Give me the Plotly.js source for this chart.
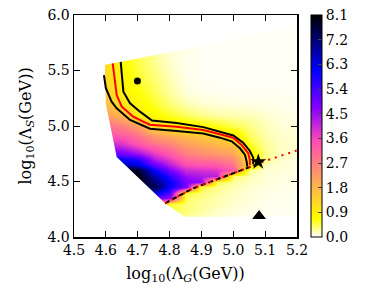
<!DOCTYPE html>
<html>
<head>
<meta charset="utf-8">
<script src="https://cdn.plot.ly/plotly-3.0.1.min.js"></script>
<style>html,body{margin:0;padding:0;background:#fff;}#chart{width:371px;height:297px;}</style>
</head>
<body>
<div id="chart"></div>
<script>
// ---- grid of the colour field (log10 Lambda_G across, log10 Lambda_S up) ----
const xGrid = [4.55, 4.60, 4.65, 4.70, 4.75, 4.80, 4.85, 4.90, 4.95, 5.00, 5.05, 5.10, 5.15, 5.20, 5.25];
const yGrid = [4.15, 4.20, 4.25, 4.30, 4.35, 4.40, 4.45, 4.50, 4.55, 4.60, 4.65, 4.70, 4.75, 4.80, 4.85, 4.90, 4.95, 5.00,
               5.10, 5.20, 5.30, 5.40, 5.50, 5.60, 5.70, 5.80, 5.90, 6.00];
// one column of values (bottom to top) for each xGrid entry
const zCol455 = [6,6,6,6,6,6,6,6,6,6,6,6,5.2,4.5,4.0,3.5,3.2,2.9,2.2,1.7,1.45,1.3,1.25,1.25,1.2,1.2,1.2,1.2];
const zCol460 = [6,6,6,6,6,6,6,6,6,6,6,6,5.2,4.5,4.0,3.5,3.2,2.9,2.2,1.7,1.45,1.3,1.25,1.25,1.2,1.2,1.2,1.2];
const zCol465 = [7,7,7,7,7,7,7,7,7.5,8,6.8,6.0,5.0,4.3,3.8,3.4,3.0,2.7,1.8,1.05,0.85,0.8,0.75,0.7,0.7,0.7,0.7,0.7];
const zCol470 = [3,3,3,4,5,6,7,8,8,7.8,6.4,5.6,4.5,3.8,3.3,3.0,2.6,2.2,0.85,0.75,0.65,0.55,0.5,0.45,0.45,0.45,0.45,0.45];
const zCol475 = [1,1,1,4,5,6.5,7.6,7.2,6.8,6.1,5.1,4.3,3.8,3.3,2.8,2.4,1.8,1.15,0.72,0.55,0.45,0.38,0.32,0.28,0.25,0.25,0.25,0.25];
const zCol480 = [0.3,0.45,0.5,0.55,4.6,5.2,6.0,6.1,5.6,4.8,4.2,3.7,3.3,2.9,2.5,2.1,1.6,0.95,0.55,0.35,0.25,0.2,0.15,0.12,0.1,0.1,0.1,0.1];
const zCol485 = [0.2,0.3,0.35,0.35,0.4,0.5,4.9,4.8,4.5,4.0,3.5,3.1,2.7,2.4,2.1,1.8,1.3,0.85,0.4,0.2,0.1,0.07,0.05,0.05,0.05,0.05,0.05,0.05];
const zCol490 = [0.15,0.2,0.25,0.25,0.3,0.35,0.5,4.6,4.3,3.9,3.4,2.9,2.5,2.2,1.9,1.6,1.1,0.7,0.3,0.12,0.06,0.03,0.03,0.03,0.03,0.03,0.03,0.03];
const zCol495 = [0.1,0.12,0.15,0.2,0.2,0.25,0.3,0.45,4.2,3.8,3.3,2.8,2.3,2.0,1.7,1.4,0.95,0.6,0.22,0.1,0.04,0.03,0.03,0.03,0.03,0.03,0.03,0.03];
const zCol500 = [0.06,0.08,0.1,0.12,0.15,0.15,0.2,0.25,0.4,3.3,2.9,2.5,2.1,1.8,1.5,1.05,0.75,0.45,0.2,0.08,0.03,0.03,0.03,0.03,0.03,0.03,0.03,0.03];
const zCol505 = [0.05,0.05,0.06,0.08,0.1,0.1,0.12,0.15,0.2,0.3,1.3,1.1,0.9,0.7,0.55,0.45,0.38,0.32,0.18,0.07,0.03,0.03,0.03,0.03,0.03,0.03,0.03,0.03];
const zCol510 = [0.04,0.04,0.05,0.05,0.06,0.07,0.08,0.1,0.1,0.12,0.15,0.3,0.3,0.28,0.25,0.22,0.2,0.18,0.12,0.06,0.03,0.03,0.03,0.03,0.03,0.03,0.03,0.03];
const zCol515 = [0.03,0.03,0.04,0.04,0.05,0.05,0.06,0.07,0.08,0.1,0.1,0.12,0.15,0.15,0.15,0.13,0.12,0.1,0.08,0.05,0.03,0.03,0.03,0.03,0.03,0.03,0.03,0.03];
const zCol520 = [0.03,0.03,0.03,0.03,0.04,0.04,0.05,0.05,0.06,0.07,0.08,0.1,0.12,0.12,0.12,0.1,0.1,0.08,0.06,0.04,0.03,0.03,0.03,0.03,0.03,0.03,0.03,0.03];
const zCol525 = [0.03,0.03,0.03,0.03,0.04,0.04,0.05,0.05,0.06,0.07,0.08,0.1,0.12,0.12,0.12,0.1,0.1,0.08,0.06,0.04,0.03,0.03,0.03,0.03,0.03,0.03,0.03,0.03];

// outline of the scanned region (everything outside it is blank)
const regionX = [4.40, 5.30, 5.30, 5.20, 4.864, 4.597, 4.600, 4.634, 4.786, 4.848, 5.30, 5.30, 4.40];
const regionY = [6.10, 6.10, 5.97, 5.91, 5.700, 5.550, 5.200, 4.720, 4.304, 4.183, 4.183, 3.90, 3.90];

// contour (red) and its two black companion curves
const redX = [4.6215, 4.6287, 4.634, 4.650, 4.686, 4.7175, 4.7385, 4.822, 4.906, 4.958, 5.000, 5.026, 5.047, 5.052, 5.052];
const redY = [5.564, 5.369, 5.279, 5.174, 5.084, 5.039, 5.012, 4.994, 4.964, 4.925, 4.895, 4.829, 4.754, 4.694, 4.649];
const upperX = [4.6466, 4.650, 4.655, 4.676, 4.707, 4.745, 4.822, 4.906, 4.958, 5.000, 5.031, 5.052, 5.0625, 5.0625];
const upperY = [5.578, 5.459, 5.309, 5.205, 5.129, 5.050, 5.027, 4.990, 4.950, 4.915, 4.850, 4.775, 4.715, 4.655];
const lowerX = [4.594, 4.600, 4.618, 4.634, 4.676, 4.7385, 4.822, 4.906, 4.958, 4.995, 5.021, 5.037, 5.042, 5.044];
const lowerY = [5.459, 5.340, 5.219, 5.159, 5.054, 4.975, 4.955, 4.932, 4.895, 4.862, 4.799, 4.739, 4.679, 4.634];

// boundary line (black dashed up to the star, red dotted all the way)
const boundX = [4.786, 4.874, 4.958, 5.042, 5.075];
const boundY = [4.304, 4.439, 4.529, 4.619, 4.655];
const dottedX = [4.786, 4.874, 4.958, 5.042, 5.075, 5.105, 5.200];
const dottedY = [4.304, 4.439, 4.529, 4.619, 4.655, 4.690, 4.780];

// special points
const starPt = {x: [5.0785], y: [4.677]};
const dotPt = {x: [4.699], y: [5.405]};
const trianglePt = {x: [5.081], y: [4.19]};

const contourLevel = 1.0;
const zMax = 8.1;
const xTicks = [4.5, 4.6, 4.7, 4.8, 4.9, 5.0, 5.1, 5.2];
const yTicks = [4.0, 4.5, 5.0, 5.5, 6.0];
const cbTicks = [0, 0.9, 1.8, 2.7, 3.6, 4.5, 5.4, 6.3, 7.2, 8.1];

const zCols = [zCol455, zCol460, zCol465, zCol470, zCol475, zCol480, zCol485, zCol490, zCol495, zCol500, zCol505, zCol510, zCol515, zCol520, zCol525];
const zRows = yGrid.map((_, i) => zCols.map(col => col[i]));

const serif = 'DejaVu Serif';
const tickFont = {family: serif, size: 14, color: '#000'};
const titleFont = {family: serif, size: 16, color: '#000'};
const colorscale = [
  [0, 'rgb(255,255,255)'],
  [0.08, 'rgb(255,255,0)'],
  [0.43, 'rgb(255,77,179)'],
  [0.58, 'rgb(135,0,255)'],
  [0.75, 'rgb(0,0,255)'],
  [1, 'rgb(0,0,0)']
];

const cbX = (311 - 74) / 223;
const cbW = 11 / 223;

const traces = [
  {
    type: 'heatmap', x: xGrid, y: yGrid, z: zRows, zmin: 0, zmax: zMax, zsmooth: 'best',
    colorscale: colorscale, hoverinfo: 'skip',
    colorbar: {
      x: cbX, xanchor: 'left', xpad: 0, y: 0.5, yanchor: 'middle', ypad: 0,
      len: 1, lenmode: 'fraction', thickness: 11, thicknessmode: 'pixels',
      outlinewidth: 1, outlinecolor: '#000',
      tickvals: cbTicks, ticktext: cbTicks.map(v => v.toFixed(1)),
      ticks: 'inside', ticklen: 4, tickcolor: '#444', tickwidth: 1,
      tickfont: tickFont
    }
  },
  {
    type: 'scatter', mode: 'lines', x: regionX, y: regionY, fill: 'toself',
    fillcolor: '#ffffff', line: {width: 0, color: '#ffffff'}, hoverinfo: 'skip', showlegend: false
  },
  {type: 'scatter', mode: 'lines', x: lowerX, y: lowerY, line: {color: '#000', width: 2}, showlegend: false},
  {type: 'scatter', mode: 'lines', x: upperX, y: upperY, line: {color: '#000', width: 2}, showlegend: false},
  {type: 'scatter', mode: 'lines', x: redX, y: redY, line: {color: '#ff0000', width: 2}, showlegend: false},
  {type: 'scatter', mode: 'lines', x: boundX, y: boundY, line: {color: '#000', width: 2, dash: '5px,3px'}, showlegend: false},
  {type: 'scatter', mode: 'lines', x: dottedX, y: dottedY, line: {color: '#ff0000', width: 2, dash: '2px,5px'}, showlegend: false},
  {type: 'scatter', mode: 'markers', x: starPt.x, y: starPt.y, marker: {symbol: 'star', size: 12, color: '#000'}, showlegend: false, cliponaxis: false},
  {type: 'scatter', mode: 'markers', x: dotPt.x, y: dotPt.y, marker: {symbol: 'circle', size: 7, color: '#000'}, showlegend: false},
  {type: 'scatter', mode: 'markers', x: trianglePt.x, y: trianglePt.y, marker: {symbol: 'triangle-up', size: 12, color: '#000'}, showlegend: false}
];

const axisCommon = {
  ticks: 'inside', ticklen: 6, tickwidth: 1, tickcolor: '#000',
  showline: true, linecolor: '#000', linewidth: 1.5, mirror: 'ticks',
  showgrid: false, zeroline: false, tickfont: tickFont
};

const layout = {
  width: 371, height: 297,
  margin: {l: 74, r: 74, t: 15, b: 60, pad: 0},
  paper_bgcolor: '#fff', plot_bgcolor: '#fff',
  font: {family: serif, size: 14, color: '#000'},
  showlegend: false,
  xaxis: Object.assign({}, axisCommon, {
    range: [4.5, 5.2], tickvals: xTicks, ticktext: xTicks.map(v => v.toFixed(1)),
    title: {text: 'log<sub>10</sub>(Λ<sub><i>G</i></sub>(GeV))', font: titleFont, standoff: 10}
  }),
  yaxis: Object.assign({}, axisCommon, {
    range: [4.0, 6.0], tickvals: yTicks, ticktext: yTicks.map(v => v.toFixed(1)),
    title: {text: 'log<sub>10</sub>(Λ<sub><i>S</i></sub>(GeV))', font: titleFont, standoff: 12}
  }),
  shapes: [{
    type: 'line', xref: 'paper', yref: 'paper',
    x0: cbX, x1: cbX + cbW, y0: contourLevel / zMax, y1: contourLevel / zMax,
    line: {color: '#ff0000', width: 1.5}
  }]
};

Plotly.newPlot('chart', traces, layout, {staticPlot: true, displayModeBar: false});
</script>
</body>
</html>
